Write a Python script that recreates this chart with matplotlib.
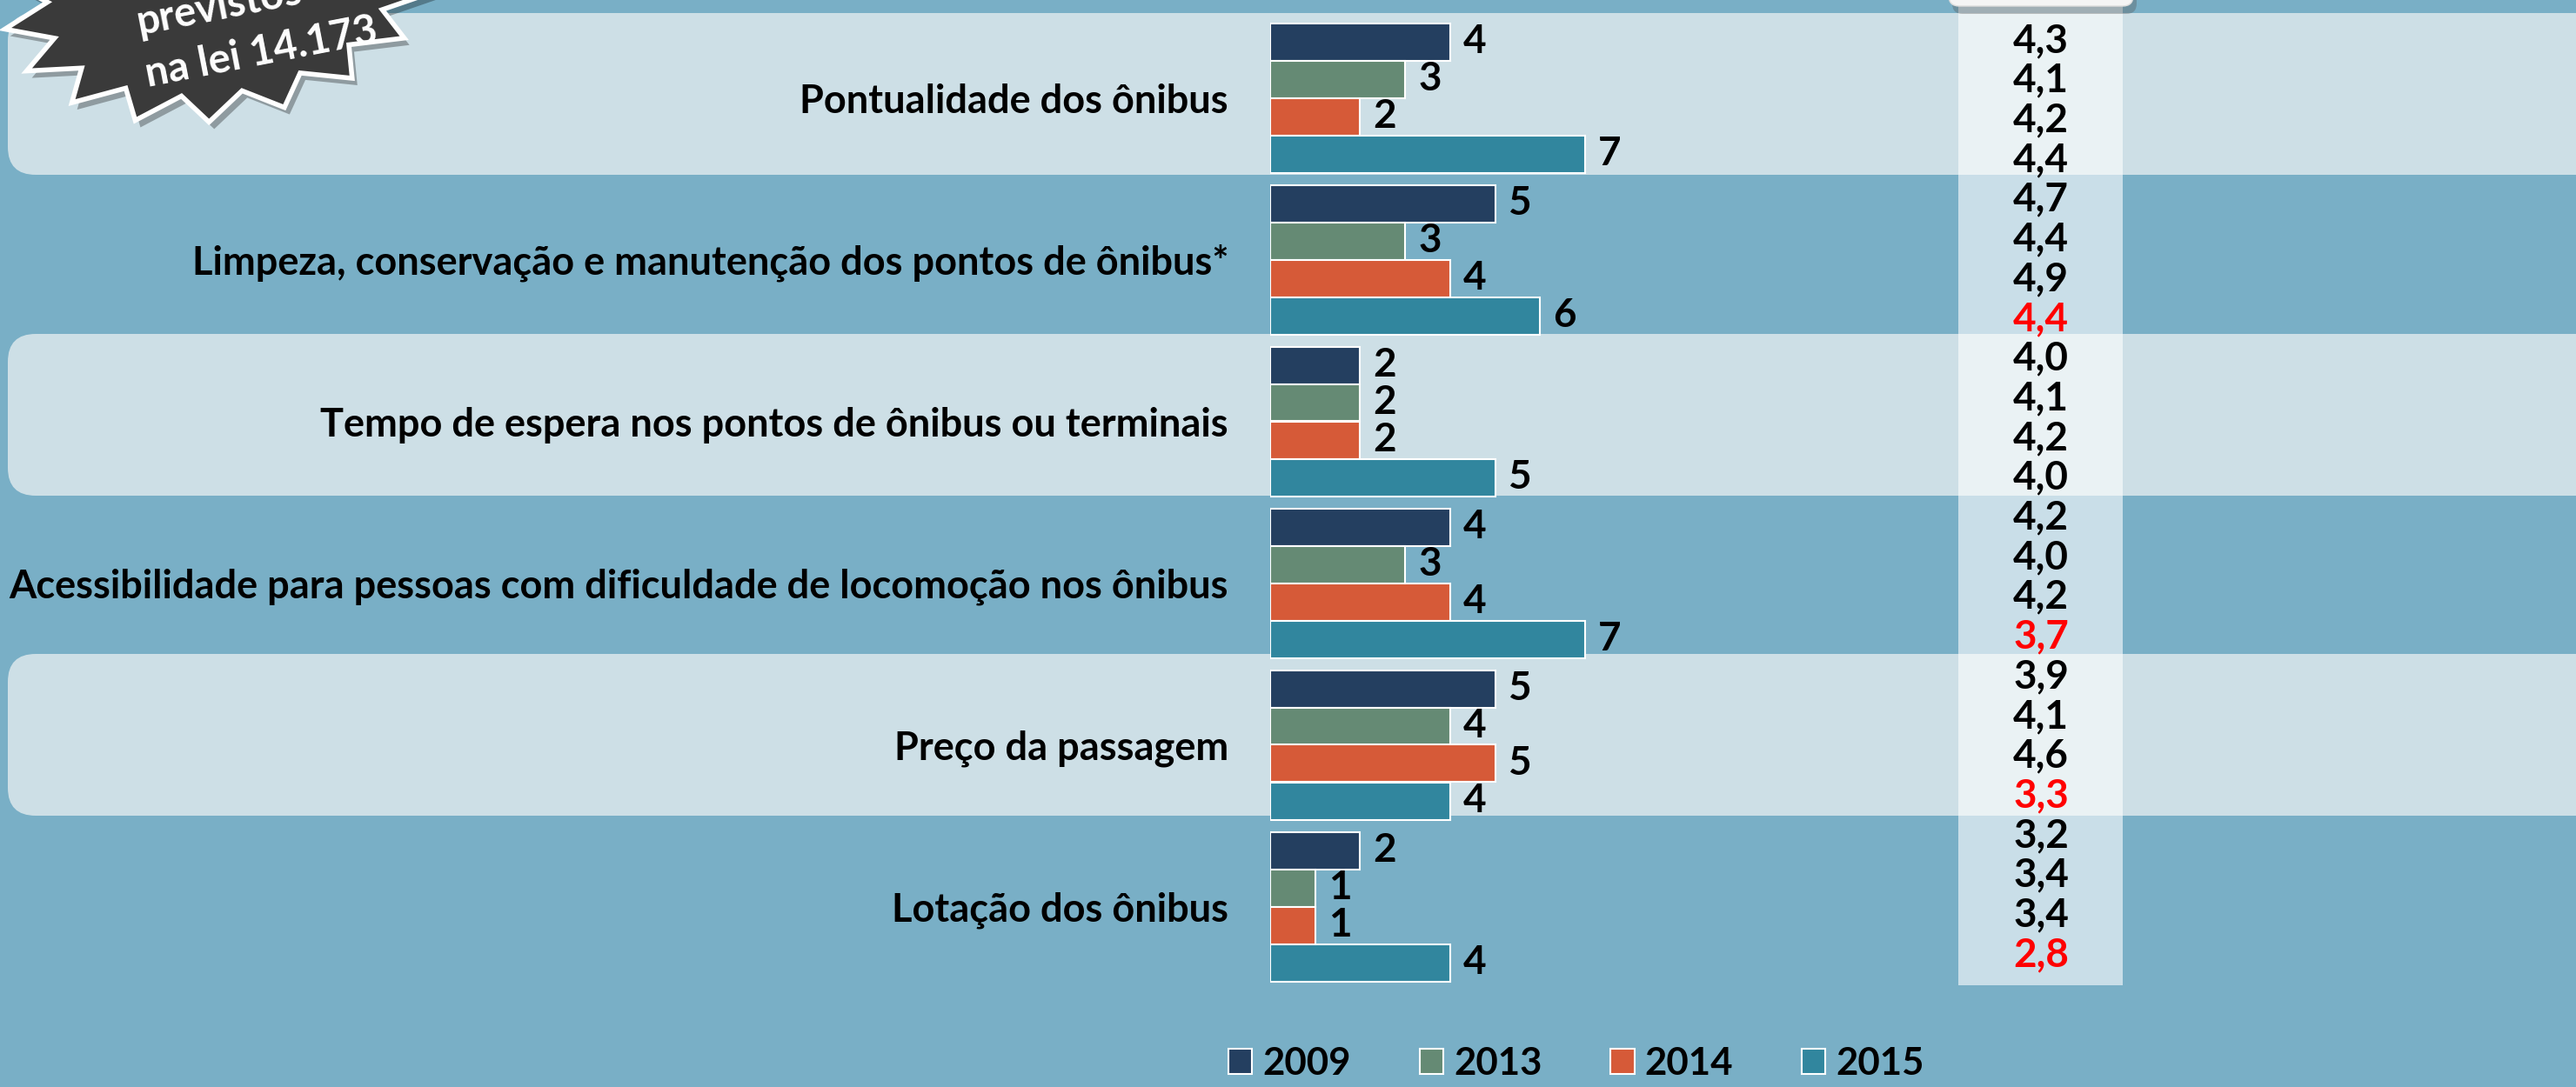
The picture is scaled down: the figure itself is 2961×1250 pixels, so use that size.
import numpy as np
import matplotlib; matplotlib.use("Agg")
import matplotlib.pyplot as plt
from matplotlib.patches import FancyBboxPatch, Polygon, Rectangle

plt.rcParams['font.family'] = ['Lato', 'DejaVu Sans']
plt.rcParams['font.weight'] = 'bold'

# dados
categorias = ["Pontualidade dos ônibus",
              "Limpeza, conservação e manutenção dos pontos de ônibus*",
              "Tempo de espera nos pontos de ônibus ou terminais",
              "Acessibilidade para pessoas com dificuldade de locomoção nos ônibus",
              "Preço da passagem",
              "Lotação dos ônibus"]
anos = ["2009", "2013", "2014", "2015"]
v2009 = [4, 5, 2, 4, 5, 2]
v2013 = [3, 3, 2, 3, 4, 1]
v2014 = [2, 4, 2, 4, 5, 1]
v2015 = [7, 6, 5, 7, 4, 4]
notas_2009 = [4.3, 4.7, 4.0, 4.2, 3.9, 3.2]
notas_2013 = [4.1, 4.4, 4.1, 4.0, 4.1, 3.4]
notas_2014 = [4.2, 4.9, 4.2, 4.2, 4.6, 3.4]
notas_2015 = [4.4, 4.4, 4.0, 3.7, 3.3, 2.8]
destaque_2015 = [False, True, False, True, True, True]
cores = ["#243f60", "#658a74", "#d65a38", "#31869e"]

W, H = 2961, 1250
BG, PANEL = "#79afc6", "#cddfe6"
fig = plt.figure(figsize=(W/100, H/100), dpi=100, facecolor=BG)

# fundo em pixels
bg = fig.add_axes([0, 0, 1, 1]); bg.set_xlim(0, W); bg.set_ylim(H, 0); bg.axis("off")
for y0 in [15, 384, 752]:
    bg.add_patch(FancyBboxPatch((9, y0), 2990, 186, boxstyle="round,pad=0,rounding_size=32",
                                fc=PANEL, ec="none", zorder=1))
bg.add_patch(Rectangle((2251, 0), 189, 1133, fc="white", alpha=0.6, ec="none", zorder=2))
bg.add_patch(FancyBboxPatch((2244, -40), 212, 56, boxstyle="round,pad=0,rounding_size=12",
                            fc="#555555", alpha=0.35, ec="none", zorder=3))
bg.add_patch(FancyBboxPatch((2240, -40), 212, 47, boxstyle="round,pad=0,rounding_size=12",
                            fc="#f4f4f4", ec="#dddddd", lw=1, zorder=4))

# selo
n = 18
ang = np.linspace(0, 2*np.pi, 2*n, endpoint=False)
r = np.where(np.arange(2*n) % 2 == 0, 1.0, 0.8)
px, py = 254*r*np.cos(ang), 152*r*np.sin(ang)
phi = np.deg2rad(-11)
xs = 255 + px*np.cos(phi) - py*np.sin(phi)
ys = -15 + px*np.sin(phi) + py*np.cos(phi)
bg.add_patch(Polygon(np.c_[xs+6, ys+8], closed=True, fc="black", alpha=0.3, ec="none", zorder=5))
bg.add_patch(Polygon(np.c_[xs, ys], closed=True, fc="#3a3a3a", ec="white", lw=4, zorder=6))
bg.text(252, 8, "previstos", color="white", fontsize=34, rotation=11, ha="center", va="center", zorder=7)
bg.text(300, 60, "na lei 14.173", color="white", fontsize=34, rotation=11, ha="center", va="center", zorder=7)

# tabela de notas
notas = np.array([notas_2009, notas_2013, notas_2014, notas_2015]).T
for g in range(len(categorias)):
    for k in range(4):
        i = 4*g + k
        cor = "red" if (k == 3 and destaque_2015[g]) else "black"
        bg.text(2346, 47 + 45.7*i, f"{notas[g, k]:.1f}".replace(".", ","), color=cor,
                fontsize=33, ha="center", va="center", zorder=8)

# barras
ax = fig.add_axes([1460/W, 1 - 1135.5/H, 517/W, 1116/H])
ax.patch.set_alpha(0)
y = np.arange(len(categorias)); h = 43/186
conts = []
for k, (vals, c) in enumerate(zip([v2009, v2013, v2014, v2015], cores)):
    b = ax.barh(y + (k-1.5)*h, vals, height=h, color=c, edgecolor="white", linewidth=1.5)
    ax.bar_label(b, padding=11, fontsize=33, fontweight="bold")
    conts.append(b)
ax.set_xlim(0, 10); ax.set_ylim(5.5, -0.5)
ax.set_yticks(y, categorias, fontsize=32.5)
ax.tick_params(axis="y", length=0, pad=34.5)
ax.set_xticks([])
for s in ax.spines.values(): s.set_visible(False)

fig.legend(conts, anos, loc="center", bbox_to_anchor=(1812/W, 1 - 1223/H), ncol=4, frameon=False,
           fontsize=31.5, handlelength=0.62, handleheight=0.62, handletextpad=0.28, columnspacing=1.8)

fig.savefig("out.png", dpi=100, facecolor=BG)
